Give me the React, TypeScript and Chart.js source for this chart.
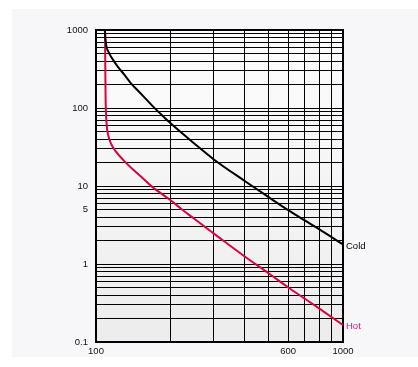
import { useEffect, useRef } from 'react';
import { Chart, registerables } from 'chart.js';

Chart.register(...registerables);

// Series data (x = temperature-like axis, y = value)
const coldX = [108.7, 109.1, 109.6, 110.5, 112, 114, 118, 122, 130, 138, 147, 156, 170, 188, 200, 250, 300, 400, 500, 600, 700, 800, 1000];
const coldY = [1000, 820, 700, 590, 535, 478, 402, 345, 269, 210, 170, 140, 105, 77, 64, 35, 21.9, 11.6, 7.2, 4.9, 3.62, 2.8, 1.78];

const hotX = [108.7, 109, 109.3, 109.7, 110.5, 112, 115, 120, 130, 142, 155, 170, 200, 223, 250, 300, 324, 400, 500, 600, 700, 800, 1000];
const hotY = [1000, 400, 150, 90, 60, 45, 35, 28, 21, 16, 12.5, 9.6, 6.6, 5.0, 3.8, 2.45, 2.05, 1.25, 0.76, 0.5, 0.36, 0.27, 0.165];

const seriesNames = ['Cold', 'Hot'];
const lineColors = ['#000000', '#d7053f'];
const labelColors = ['#000000', '#e0157a'];

const xMin = 100;
const xMax = 1000;
const yMin = 0.1;
const yMax = 1000;
const xTickLabels = [100, 600, 1000];
const yTickLabels = [0.1, 1, 5, 10, 100, 1000];

function decadeGrid(min: number, max: number): number[] {
  const out: number[] = [];
  for (let d = min; d < max * 0.999; d *= 10) {
    for (let m = 1; m < 10; m++) out.push(+(m * d).toPrecision(6));
  }
  out.push(max);
  return out;
}

function isLabel(v: number, list: number[]) {
  return list.some((t) => Math.abs(v - t) < t * 1e-6);
}

const FONT = { family: '"Liberation Sans", Arial, Helvetica, sans-serif', size: 9.5 };

export default function App() {
  const ref = useRef<HTMLCanvasElement | null>(null);

  useEffect(() => {
    const canvas = ref.current;
    if (!canvas) return;

    const bgPlugin = {
      id: 'plotBg',
      beforeDraw(chart: any) {
        const { ctx, chartArea: a } = chart;
        const g = ctx.createLinearGradient(0, a.top, 0, a.bottom);
        g.addColorStop(0, '#fdfdfd');
        g.addColorStop(1, '#ececec');
        ctx.save();
        ctx.fillStyle = g;
        ctx.fillRect(a.left, a.top, a.right - a.left, a.bottom - a.top);
        ctx.restore();
      },
    };

    const framePlugin = {
      id: 'frame',
      beforeDatasetsDraw(chart: any) {
        const { ctx, chartArea: a } = chart;
        ctx.save();
        ctx.strokeStyle = '#000';
        ctx.lineWidth = 2;
        ctx.strokeRect(a.left, a.top, a.right - a.left, a.bottom - a.top);
        ctx.restore();
      },
    };

    const endLabelPlugin = {
      id: 'endLabels',
      afterDraw(chart: any) {
        const { ctx, chartArea: a } = chart;
        ctx.save();
        ctx.font = `${FONT.size}px ${FONT.family}`;
        ctx.textAlign = 'left';
        ctx.textBaseline = 'middle';
        chart.data.datasets.forEach((ds: any, i: number) => {
          const meta = chart.getDatasetMeta(i);
          const last = meta.data[meta.data.length - 1];
          if (!last) return;
          ctx.fillStyle = labelColors[i];
          ctx.fillText(ds.label, a.right + 3, last.y + 1.5);
        });
        ctx.restore();
      },
    };

    const xGrid = decadeGrid(xMin, xMax);
    const yGrid = decadeGrid(yMin, yMax);

    const chart = new Chart(canvas, {
      type: 'line',
      data: {
        datasets: [
          {
            label: seriesNames[0],
            data: coldX.map((x, i) => ({ x, y: coldY[i] })),
            borderColor: lineColors[0],
            borderWidth: 2,
            pointRadius: 0,
            cubicInterpolationMode: 'monotone',
            fill: false,
          },
          {
            label: seriesNames[1],
            data: hotX.map((x, i) => ({ x, y: hotY[i] })),
            borderColor: lineColors[1],
            borderWidth: 2,
            pointRadius: 0,
            cubicInterpolationMode: 'monotone',
            fill: false,
          },
        ],
      },
      options: {
        animation: false,
        responsive: false,
        devicePixelRatio: 1,
        layout: { padding: { left: 0, top: 21, right: 75, bottom: 0 } },
        plugins: { legend: { display: false }, tooltip: { enabled: false } },
        scales: {
          x: {
            type: 'logarithmic',
            min: xMin,
            max: xMax,
            afterBuildTicks: (axis: any) => {
              axis.ticks = xGrid.map((v) => ({ value: v }));
            },
            afterFit: (s: any) => {
              s.height = 15;
            },
            grid: { color: '#000', lineWidth: 1, drawTicks: false },
            border: { display: false },
            ticks: {
              autoSkip: false,
              maxRotation: 0,
              padding: 4,
              color: '#111',
              font: FONT,
              callback: (v: any) => (isLabel(Number(v), xTickLabels) ? String(Number(v)) : ''),
            },
          },
          y: {
            type: 'logarithmic',
            min: yMin,
            max: yMax,
            afterBuildTicks: (axis: any) => {
              axis.ticks = yGrid.map((v) => ({ value: v }));
            },
            afterFit: (s: any) => {
              s.width = 84;
            },
            grid: { color: '#000', lineWidth: 1, drawTicks: false },
            border: { display: false },
            ticks: {
              autoSkip: false,
              padding: 8,
              color: '#111',
              font: FONT,
              callback: (v: any) => (isLabel(Number(v), yTickLabels) ? String(Number(v)) : ''),
            },
          },
        },
      },
      plugins: [bgPlugin, framePlugin, endLabelPlugin],
    } as any);

    return () => chart.destroy();
  }, []);

  return (
    <div
      style={{
        position: 'absolute',
        left: 12,
        top: 9,
        width: 406,
        height: 348,
        background: '#f7f7f9',
      }}
    >
      <canvas ref={ref} width={406} height={348} />
    </div>
  );
}
